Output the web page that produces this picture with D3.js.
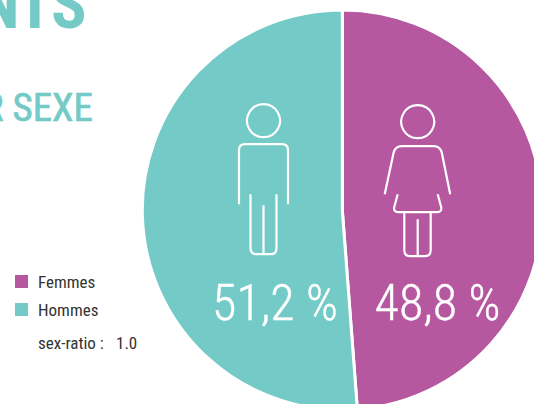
<!DOCTYPE html>
<html lang="fr">
<head>
<meta charset="utf-8">
<script src="https://cdn.jsdelivr.net/npm/d3@7"></script>
<style>
html,body{margin:0;padding:0;background:#fff;overflow:hidden}
svg{display:block}
text{font-family:"Liberation Sans Narrow","Roboto Condensed",Roboto,sans-serif}
</style>
</head>
<body>
<svg id="chart" width="534" height="404"></svg>
<script>
const categories = ["Femmes", "Hommes"];
const shares = [48.8, 51.2];
const colors = ["#b558a0", "#74cac7"];
const sexRatio = "1.0";
const titleLines = ["HABITANTS", "PAR SEXE"];

const svg = d3.select("#chart");
const teal = colors[1];

// Headings run off the left edge, so they are anchored on their right end
svg.append("text").text(titleLines[0])
  .attr("x", 85).attr("y", 28).attr("text-anchor", "end")
  .attr("font-size", 66).attr("font-weight", 700).attr("letter-spacing", -1.5).attr("fill", teal);
svg.append("text").text(titleLines[1])
  .attr("x", 93).attr("y", 121).attr("text-anchor", "end")
  .attr("font-size", 39).attr("font-weight", 400).attr("fill", teal)
  .attr("stroke", teal).attr("stroke-width", 0.7);

// Pie, clockwise from twelve o'clock
const cx = 342.3, cy = 210, radius = 200;
const pie = d3.pie().sort(null).value(d => d.share);
const arc = d3.arc().innerRadius(0).outerRadius(radius);
const slices = pie(categories.map((c, i) => ({name: c, share: shares[i], color: colors[i]})));

const g = svg.append("g").attr("transform", `translate(${cx},${cy})`);
g.selectAll("path").data(slices).join("path")
  .attr("d", arc).attr("fill", d => d.data.color)
  .attr("stroke", "#fff").attr("stroke-width", 3);

// Percentages on each slice
const fmt = v => v.toFixed(1).replace(".", ",") + " %";
const labelX = {Femmes: 437.5, Hommes: 275};
svg.selectAll("text.pct").data(slices).join("text").attr("class", "pct")
  .attr("x", d => labelX[d.data.name]).attr("y", 319.5)
  .attr("text-anchor", "middle").attr("font-size", 50).attr("font-weight", 300).attr("fill", "#fff")
  .attr("stroke", "#fff").attr("stroke-width", 0.4)
  .text(d => fmt(d.data.share));

// Pictograms, drawn in their own local units
const man = "M0 0 a16.5 16.5 0 1 0 .01 0 Z M-24.5 100 V46 q0 -6 6 -6 H18.5 q6 0 6 6 V100 M-13 90 V144 q0 6 6 6 H7 q6 0 6 -6 V90 M0 101 V150";
const woman = "M0 0 a16.5 16.5 0 1 0 .01 0 Z M-33 89 L-24 47 q2 -6 8 -6 H16 q6 0 8 6 L32.5 89 M-20 89 L-23.5 102 q-1 5 5 5 H18.5 q6 0 5 -5 L20 89 M-13.4 107 V145 q0 6 6 6 H7 q6 0 6 -6 V107 M0 114 V151";
[[man, 263.5, 104.2], [woman, 417.7, 105.2]].forEach(([d, x, y]) => {
  svg.append("path").attr("d", d).attr("transform", `translate(${x},${y})`)
    .attr("fill", "none").attr("stroke", "#fff").attr("stroke-width", 2.2)
    .attr("stroke-linejoin", "round");
});

// Legend
const legendY = d3.scalePoint().domain(categories).range([281.5, 309.5]);
const legend = svg.selectAll("g.key").data(categories).join("g").attr("class", "key")
  .attr("transform", c => `translate(0,${legendY(c)})`);
legend.append("rect").attr("x", 15).attr("y", -6.5).attr("width", 13).attr("height", 13)
  .attr("fill", (c, i) => colors[i]);
legend.append("text").attr("x", 38).attr("y", 6).attr("font-size", 17).attr("fill", "#333").text(c => c);

svg.append("text").attr("x", 38).attr("y", 348.5).attr("font-size", 17).attr("fill", "#333")
  .text("sex-ratio :");
svg.append("text").attr("x", 116).attr("y", 348.5).attr("font-size", 17).attr("fill", "#333")
  .text(sexRatio);
</script>
</body>
</html>
